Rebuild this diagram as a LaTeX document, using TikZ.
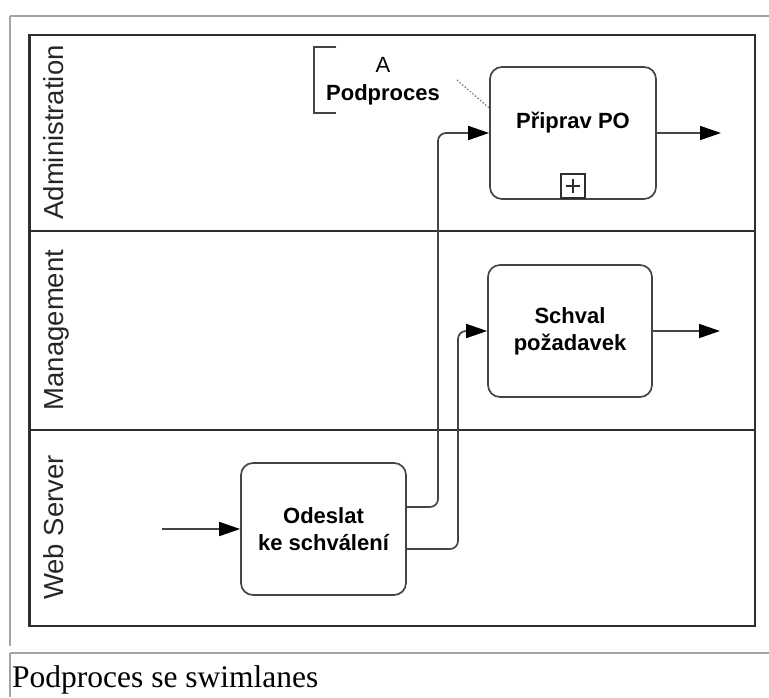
\documentclass[tikz,border=0pt]{standalone}
\usepackage{fontspec}
\setmainfont{Liberation Serif}
\newfontfamily\lanefont{Liberation Sans}
\usetikzlibrary{arrows.meta}
\definecolor{framegray}{HTML}{A4A4A4}
\definecolor{ink}{HTML}{2E2E2E}
\definecolor{boxink}{HTML}{454545}
\begin{document}
\begin{tikzpicture}[x=1pt,y=-1pt,
  tablerule/.style={draw=framegray, line width=2pt},
  poolline/.style={draw=ink, line width=2pt},
  lanelabel/.style={rotate=90, anchor=base, inner sep=0pt,
    font=\lanefont\fontsize{27.5}{30}\selectfont, text=black!85},
  task/.style={draw=boxink, line width=1.7pt, rounded corners=12pt,
    minimum width=165pt, minimum height=132pt, inner sep=0pt,
    align=center, font=\lanefont\bfseries\fontsize{22}{27}\selectfont},
  flow/.style={draw=boxink, line width=1.7pt, rounded corners=8pt,
    -{Triangle[length=21pt,width=14pt,color=black]}},
  assoc/.style={draw=gray, line width=1.4pt, dotted},
  annot/.style={align=center, inner sep=0pt,
    font=\lanefont\fontsize{22}{28}\selectfont},
]
\useasboundingbox (0,0) rectangle (769,697);

% page frame of the figure and its caption cell
\draw[tablerule] (10,16) -- (769,16);
\draw[tablerule] (10,16) -- (10,646);
\draw[tablerule] (10,653) -- (769,653);
\draw[tablerule] (10,653) -- (10,697);

% pool with three lanes
\draw[poolline] (29,35) rectangle (755,626);
\draw[draw=ink, line width=3pt] (29.5,35) -- (29.5,626);
\draw[poolline] (29,231) -- (755,231);
\draw[poolline] (29,430) -- (755,430);

\node[lanelabel] (laneA) at (63,132.5) {Administration};
\node[lanelabel] (laneM) at (63,330) {Management};
\node[lanelabel] (laneW) at (63,527.5) {Web Server};

% tasks
\node[task] (odeslat) at (323.5,529) {Odeslat\\ke schválení};
\node[task, minimum width=166pt] (priprav) at (573,133)
  {\raisebox{10pt}[\height][\depth]{Připrav PO}};
\node[task, minimum width=164pt] (schval) at (570,331) {Schval\\požadavek};

% collapsed sub-process marker
\node[draw=ink, line width=1.4pt, minimum width=24pt, minimum height=24pt,
  inner sep=0pt] (plus) at (573,186) {};
\draw[draw=ink, line width=1.2pt] ([xshift=-7pt]plus.center) -- ([xshift=7pt]plus.center);
\draw[draw=ink, line width=1.2pt] ([yshift=-7pt]plus.center) -- ([yshift=7pt]plus.center);

% text annotation
\node[annot] (note) at (383,81) {A\\\textbf{Podproces}};
\draw[draw=boxink, line width=1.5pt] (336,47) -- (314,47) -- (314,113) -- (336,113);
\coordinate (noteEnd) at (457,80);
\draw[assoc] (noteEnd) -- (priprav.west |- 0,108);

% sequence flows
\coordinate (startIn) at (162,529);
\coordinate (endA) at (721,133);
\coordinate (endM) at (720,331);
\draw[flow] (startIn) -- (odeslat.west);
\draw[flow] (odeslat.east |- 0,507) -- (438,507) -- (438,133) -- (priprav.west);
\draw[flow] (odeslat.east |- 0,549) -- (458,549) -- (458,331) -- (schval.west);
\draw[flow] (priprav.east) -- (endA);
\draw[flow] (schval.east) -- (endM);

% caption
\node[anchor=base west, inner sep=0pt,
  font=\fontsize{31.5}{34}\selectfont] (caption) at (12,687) {Podproces se swimlanes};
\end{tikzpicture}
\end{document}
